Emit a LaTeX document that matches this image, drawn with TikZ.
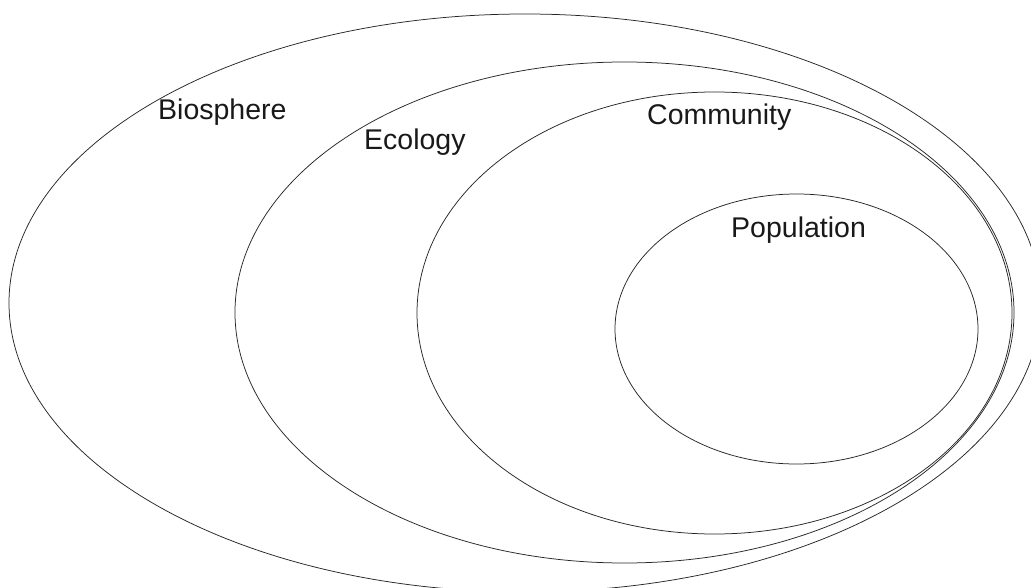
\documentclass[tikz,border=0pt]{standalone}
\usepackage{fontspec}
\setmainfont{Liberation Sans}
\begin{document}
\begin{tikzpicture}[x=1pt,y=-1pt,
  ring/.style={draw=black!85, line width=0.75pt},
  lbl/.style={anchor=base west, inner sep=0pt, font=\fontsize{28.5}{34}\selectfont, text=black!90}]
\useasboundingbox (0,0) rectangle (1031,588);
\clip (0,0) rectangle (1031,588);
\fill[white] (0,0) rectangle (1031,588);
% Biosphere
\draw[ring] (525,303) ellipse [x radius=516, y radius=289];
% Ecology
\draw[ring] (624.5,312.5) ellipse [x radius=389.5, y radius=250.5];
% Community
\draw[ring] (714.5,313) ellipse [x radius=297.5, y radius=221];
% Population
\draw[ring] (796.5,329) ellipse [x radius=181.5, y radius=135];
\node[lbl] (bio) at (158,120) {Biosphere};
\node[lbl] (eco) at (364,150) {Ecology};
\node[lbl] (com) at (647,125) {Community};
\node[lbl] (pop) at (731,237) {Population};
\end{tikzpicture}
\end{document}
